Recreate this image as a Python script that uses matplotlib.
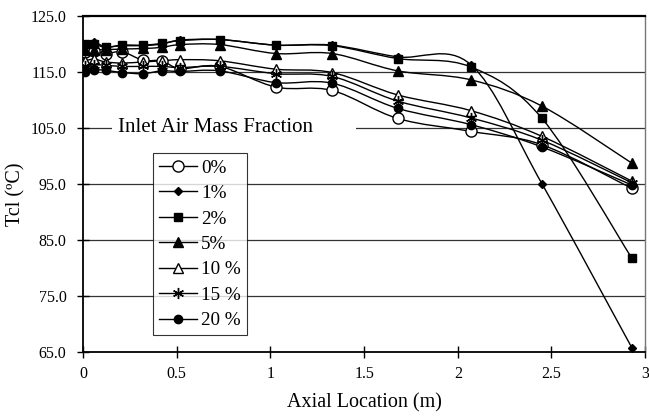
import numpy as np
import matplotlib
matplotlib.use("Agg")
import matplotlib.pyplot as plt
from matplotlib.path import Path
from matplotlib.patches import PathPatch, Rectangle
from matplotlib.lines import Line2D

plt.rcParams["font.family"] = ["Liberation Serif", "DejaVu Serif"]

# axial measurement positions (m)
axial = [0.01, 0.06, 0.12, 0.21, 0.32, 0.42, 0.52, 0.73, 1.03, 1.33, 1.68, 2.07, 2.45, 2.93]

# centreline temperature (C) for each inlet air mass fraction
tcl_0 = [118.5, 118.8, 118.3, 118.6, 117.1, 117.0, 115.6, 116.0, 112.3, 111.7, 106.7, 104.4, 102.0, 94.2]
tcl_1 = [119.6, 120.3, 119.5, 119.7, 119.7, 120.0, 120.7, 120.8, 119.8, 119.8, 117.7, 116.3, 95.0, 65.7]
tcl_2 = [120.0, 120.0, 119.4, 119.8, 119.8, 120.1, 120.6, 120.8, 119.8, 119.7, 117.4, 115.9, 106.7, 81.7]
tcl_5 = [119.0, 119.0, 119.0, 119.1, 119.2, 119.4, 119.9, 119.9, 118.3, 118.3, 115.2, 113.6, 108.9, 98.7]
tcl_10 = [117.0, 117.3, 116.8, 116.6, 116.8, 117.0, 117.2, 117.0, 115.5, 114.9, 110.9, 108.1, 103.5, 95.5]
tcl_15 = [116.0, 116.3, 116.2, 116.0, 116.0, 116.0, 115.8, 116.0, 114.7, 114.2, 109.8, 106.8, 102.8, 95.2]
tcl_20 = [115.0, 115.4, 115.3, 114.9, 114.7, 115.2, 115.1, 115.2, 113.1, 113.0, 108.5, 105.6, 101.6, 94.8]

labels = ["0%", "1%", "2%", "5%", "10 %", "15 %", "20 %"]


def smooth_path(x, y):
    """Bezier path through the points, Catmull-Rom style control points."""
    pts = np.column_stack([x, y])
    n = len(pts)
    verts = [pts[0]]
    codes = [Path.MOVETO]
    for i in range(n - 1):
        p0 = pts[max(i - 1, 0)]
        p1 = pts[i]
        p2 = pts[i + 1]
        p3 = pts[min(i + 2, n - 1)]
        c1 = p1 + (p2 - p0) / 6.0
        c2 = p2 - (p3 - p1) / 6.0
        verts += [c1, c2, p2]
        codes += [Path.CURVE4] * 3
    return Path(verts, codes)


styles = [
    dict(marker="o", ms=8, mfc="white", mec="black", mew=1.0),
    dict(marker="D", ms=4.5, mfc="black", mec="black"),
    dict(marker="s", ms=6, mfc="black", mec="black"),
    dict(marker="^", ms=7, mfc="black", mec="black"),
    dict(marker="^", ms=7, mfc="white", mec="black", mew=1.0),
    dict(marker=(6, 2, 0), ms=8, mfc="black", mec="black", mew=1.0),
    dict(marker="o", ms=6, mfc="black", mec="black"),
]
series = [tcl_0, tcl_1, tcl_2, tcl_5, tcl_10, tcl_15, tcl_20]

fig = plt.figure(figsize=(6.49, 4.16), dpi=100)
ax = fig.add_axes([0.128, 0.154, 0.866, 0.8075])

for yy in [75, 85, 95, 105, 115]:
    ax.axhline(yy, color="#333333", lw=0.9, zorder=1)

handles = []
for vals, st, lab in zip(series, styles, labels):
    ax.add_patch(PathPatch(smooth_path(axial, vals), fill=False, ec="black", lw=1.0, zorder=2))
    ax.plot(axial, vals, linestyle="none", zorder=3, **st)
    handles.append(Line2D([], [], color="black", lw=1.0, **st))

ax.set_xlim(0, 3)
ax.set_ylim(65, 125)
ax.set_xticks([0, 0.5, 1, 1.5, 2, 2.5, 3])
ax.set_xticklabels(["0", "0.5", "1", "1.5", "2", "2.5", "3"])
ax.set_yticks([65, 75, 85, 95, 105, 115, 125])
ax.set_yticklabels([f"{v:.1f}" for v in [65, 75, 85, 95, 105, 115, 125]])
ax.tick_params(labelsize=11.5, direction="inout", length=8, width=1, color="black")
ax.tick_params(axis="y", pad=8)
ax.tick_params(axis="x", pad=6)

ax.spines["left"].set_linewidth(1.3)
ax.spines["bottom"].set_linewidth(1.3)
ax.spines["top"].set_linewidth(1.6)
ax.spines["right"].set_color("#777777")
ax.spines["right"].set_linewidth(1.0)

ax.set_xlabel("Axial Location (m)", fontsize=14.5)
ax.set_ylabel("Tcl (ºC)", fontsize=14.5)
ax.xaxis.set_label_coords(0.5, -0.122)
ax.yaxis.set_label_coords(-0.102, 0.47)

# white band behind the title of the legend block
ax.add_patch(Rectangle((0.155, 103.2), 1.3, 3.6, fc="white", ec="none", zorder=1.5))
ax.text(0.187, 105, "Inlet Air Mass Fraction", fontsize=15, va="center", ha="left", zorder=4)

leg = ax.legend(handles, labels, loc="lower left", bbox_to_anchor=(0.1246, 0.05),
                fontsize=13.8, frameon=True, fancybox=False, edgecolor="black",
                handlelength=2.0, handletextpad=0.2, labelspacing=0.42,
                borderpad=0.3, borderaxespad=0)
leg.get_frame().set_linewidth(0.8)
leg.set_zorder(5)

fig.savefig("out.png", dpi=100)
